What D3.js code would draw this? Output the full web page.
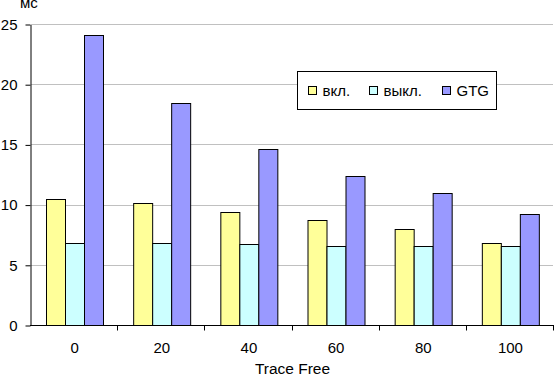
<!DOCTYPE html>
<html>
<head>
<meta charset="utf-8">
<script src="https://cdn.jsdelivr.net/npm/d3@7"></script>
<style>
  body { margin: 0; background: #fff; }
  text { font-family: "Liberation Sans", Arial, sans-serif; }
</style>
</head>
<body>
<script>
const width = 555;
const height = 375;

// data
const categories = ["0", "20", "40", "60", "80", "100"];
const seriesNames = ["вкл.", "выкл.", "GTG"];
const vkl = [10.5, 10.1, 9.35, 8.7, 8.0, 6.8];
const vykl = [6.85, 6.8, 6.7, 6.6, 6.55, 6.55];
const gtg = [24.05, 18.4, 14.6, 12.35, 10.95, 9.2];
const yTicks = [0, 5, 10, 15, 20, 25];
const colors = ["#ffff99", "#ccffff", "#9999ff"];

const seriesValues = [vkl, vykl, gtg];

var svg = d3.select("body")
  .append("svg")
  .attr("width", width)
  .attr("height", height);

var plotLeft = 31, plotRight = 554, plotTop = 24, plotBottom = 325;

var x0 = d3.scaleBand().domain(categories).range([plotLeft, plotRight]);
var gap = x0.bandwidth() * 1.5 / 4.5;
var x1 = d3.scaleBand()
  .domain(seriesNames)
  .range([gap / 2, x0.bandwidth() - gap / 2]);

var y = d3.scaleLinear().domain([0, 25]).range([plotBottom, plotTop]);

// grid lines
svg.append("g")
  .selectAll("line")
  .data(yTicks.slice(1))
  .join("line")
  .attr("x1", plotLeft)
  .attr("x2", plotRight - 1)
  .attr("y1", d => Math.round(y(d)) + 0.5)
  .attr("y2", d => Math.round(y(d)) + 0.5)
  .attr("stroke", "#c0c0c0");

// bars
var groups = svg.append("g")
  .selectAll("g")
  .data(categories)
  .join("g")
  .attr("transform", d => "translate(" + x0(d) + ",0)");

groups.selectAll("rect")
  .data((d, i) => seriesNames.map((s, j) => ({ s: s, j: j, v: seriesValues[j][i] })))
  .join("rect")
  .attr("x", d => Math.round(x1(d.s)) + 0.5)
  .attr("width", Math.round(x1.bandwidth()))
  .attr("y", d => Math.round(y(d.v)) + 0.5)
  .attr("height", d => Math.round(y(0)) - Math.round(y(d.v)))
  .attr("fill", d => colors[d.j])
  .attr("stroke", "#000")
  .attr("stroke-width", 1);

// y axis
var yAxis = svg.append("g")
  .attr("transform", "translate(" + (plotLeft - 0.5) + ",0.5)")
  .call(d3.axisLeft(y).tickValues(yTicks).tickSize(5).tickPadding(8).tickSizeOuter(0));
yAxis.select(".domain").attr("stroke", "#000");
yAxis.selectAll(".tick line").attr("stroke", "#000");
yAxis.selectAll("text")
  .attr("font-size", 15)
  .attr("font-family", "Liberation Sans, Arial, sans-serif")
  .attr("fill", "#000");

// x axis with ticks between categories
var xAxis = svg.append("g")
  .attr("transform", "translate(0," + (plotBottom + 0.5) + ")");
xAxis.append("line")
  .attr("x1", plotLeft - 1)
  .attr("x2", plotRight)
  .attr("stroke", "#000");
var boundaries = categories.map(c => x0(c) + x0.bandwidth());
xAxis.selectAll(".tk")
  .data(boundaries)
  .join("line")
  .attr("class", "tk")
  .attr("x1", d => Math.round(d) - 0.5)
  .attr("x2", d => Math.round(d) - 0.5)
  .attr("y1", 0)
  .attr("y2", 5)
  .attr("stroke", "#000");
xAxis.selectAll(".lbl")
  .data(categories)
  .join("text")
  .attr("class", "lbl")
  .attr("x", d => x0(d) + x0.bandwidth() / 2)
  .attr("y", 27.5)
  .attr("text-anchor", "middle")
  .attr("font-size", 15)
  .text(d => d);

// axis titles
svg.append("text")
  .attr("x", (plotLeft + plotRight) / 2)
  .attr("y", 374)
  .attr("text-anchor", "middle")
  .attr("font-size", 15.5)
  .text("Trace Free");

svg.append("text")
  .attr("x", 20)
  .attr("y", 8)
  .attr("font-size", 15)
  .text("мс");

// legend
var legend = svg.append("g").attr("transform", "translate(297.5,71.5)");
legend.append("rect")
  .attr("width", 199)
  .attr("height", 38)
  .attr("fill", "#fff")
  .attr("stroke", "#000");
var legendX = [11, 72, 145];
var items = legend.selectAll(".item")
  .data(seriesNames)
  .join("g")
  .attr("class", "item")
  .attr("transform", (d, i) => "translate(" + legendX[i] + ",0)");
items.append("rect")
  .attr("y", 15)
  .attr("width", 8)
  .attr("height", 8)
  .attr("fill", (d, i) => colors[i])
  .attr("stroke", "#000");
items.append("text")
  .attr("x", 14)
  .attr("y", 24.5)
  .attr("font-size", 15)
  .text(d => d);
</script>
</body>
</html>
